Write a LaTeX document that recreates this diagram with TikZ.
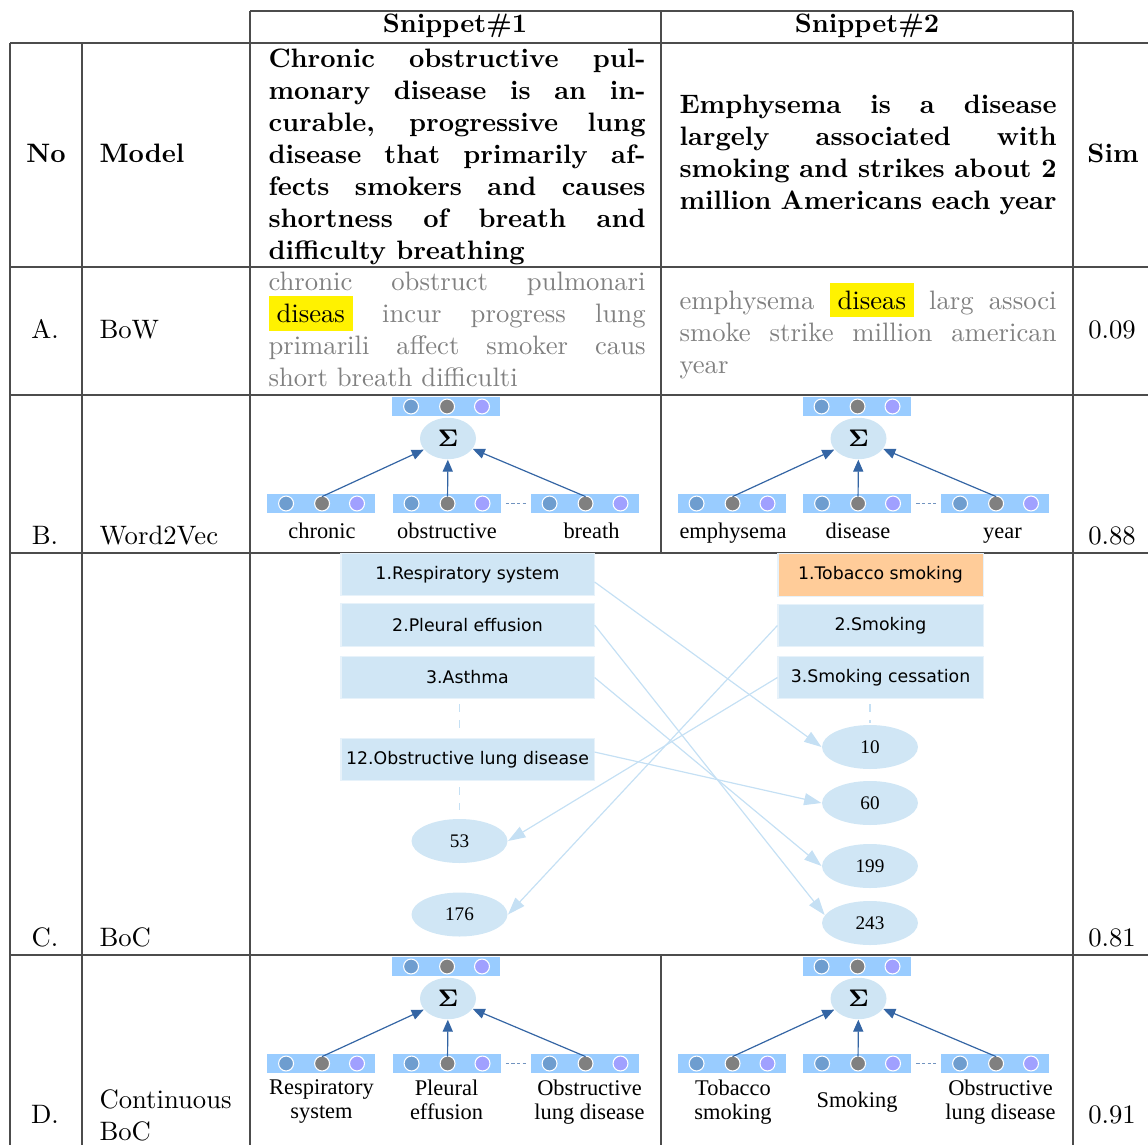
\documentclass[tikz,border=0pt]{standalone}
\usepackage[no-math]{fontspec}
\usetikzlibrary{arrows.meta,calc,shapes.geometric}

\newfontfamily\wordfont{Liberation Serif}
\newfontfamily\conceptfont{DejaVu Sans}

\definecolor{barblue}{RGB}{153,204,255}
\definecolor{dotsteel}{RGB}{110,157,207}
\definecolor{dotgray}{RGB}{128,128,128}
\definecolor{dotlilac}{RGB}{160,160,255}
\definecolor{sumfill}{RGB}{207,229,244}
\definecolor{arrowblue}{RGB}{52,101,164}
\definecolor{conceptfill}{RGB}{208,230,245}
\definecolor{tobacco}{RGB}{255,204,153}
\definecolor{linkblue}{RGB}{197,224,244}

\tikzset{
  rule/.style={draw=black!70, line width=0.5pt},
  para/.style={text width=141.4pt, align=justify, inner sep=0pt},
  vecbar/.style={rectangle, fill=barblue, minimum width=40.5pt, minimum height=7.1pt, inner sep=0pt},
  vdot/.style={draw=white, line width=0.4pt},
  sumnode/.style={ellipse, fill=sumfill, minimum width=21pt, minimum height=15.5pt, inner sep=0pt, font=\fontsize{9}{10}\selectfont},
  feed/.style={draw=arrowblue, line width=0.45pt, -{Triangle[length=4.5pt,width=3.8pt]}},
  ellip/.style={draw=arrowblue!70, line width=0.4pt, dash pattern=on 1.2pt off 0.9pt},
  wordlbl/.style={font=\wordfont\fontsize{8.4}{9}\selectfont, align=center, inner sep=0pt},
  concept/.style={rectangle, fill=conceptfill, draw=conceptfill!50!white, line width=0.4pt, minimum height=16pt, inner sep=0pt, font=\conceptfont\fontsize{6.5}{8}\selectfont},
  idnode/.style={ellipse, fill=conceptfill, minimum width=36pt, minimum height=16.5pt, inner sep=0pt, font=\wordfont\fontsize{7.2}{8}\selectfont},
  link/.style={draw=linkblue, line width=0.45pt, -{Triangle[length=6.5pt,width=4.5pt]}},
  gap/.style={draw=linkblue, line width=0.45pt, dashed},
}

% one summed embedding: three input vectors feeding a sum
\newcommand{\sumtree}[1]{%
  \node[vecbar] (#1top) at (446,406.5) {};
  \node[sumnode] (#1sum) at (448,438.5) {$\mathbf{\Sigma}$};
  \node[vecbar] (#1a) at (321,503.5) {};
  \node[vecbar] (#1b) at (446.5,503.5) {};
  \node[vecbar] (#1c) at (584.5,503.5) {};
  \foreach \vb in {#1top,#1a,#1b,#1c}{%
    \filldraw[vdot, fill=dotsteel] ([xshift=-13.1pt]\vb.center) circle (2.8pt);
    \filldraw[vdot, fill=dotgray] ([xshift=0.4pt]\vb.center) circle (2.8pt);
    \filldraw[vdot, fill=dotlilac] ([xshift=13.5pt]\vb.center) circle (2.8pt);
  }
  \foreach \vb in {#1a,#1b,#1c}
    \draw[feed] ([shift={(0.4pt,2.6pt)}]\vb.center) -- (#1sum);
  \draw[ellip] ([xshift=1.8pt]#1b.east) -- ([xshift=-0.9pt]#1c.west);
}

\begin{document}
\begin{tikzpicture}[x=0.375pt,y=-0.375pt]
\useasboundingbox (0,0) rectangle (1148,1145);

% table rules
\draw[rule] (250,11) -- (1073,11);
\foreach \y in {43,267,395,553,955}
  \draw[rule] (10,\y) -- (1148,\y);
\foreach \x in {10,82}
  \draw[rule] (\x,43) -- (\x,1145);
\foreach \x in {250,1073}
  \draw[rule] (\x,11) -- (\x,1145);
\draw[rule] (661,11) -- (661,553);
\draw[rule] (661,955) -- (661,1145);

% header
\node[anchor=base, font=\bfseries] (hS1) at (455,33) {Snippet\#1};
\node[anchor=base, font=\bfseries] (hS2) at (867,33) {Snippet\#2};
\node[anchor=base, font=\bfseries] (hNo) at (46,162) {No};
\node[anchor=base west, inner sep=0pt, font=\bfseries] (hModel) at (99,162) {Model};
\node[anchor=base, font=\bfseries] (hSim) at (1113,162) {Sim};
\node[para, font=\bfseries, anchor=north west] (pS1) at (268,48.5) {Chronic obstructive pul-\linebreak monary disease is an in-\linebreak curable, progressive lung\linebreak disease that primarily af-\linebreak fects smokers and causes\linebreak shortness of breath and\linebreak difficulty breathing};
\node[para, font=\bfseries, anchor=north west] (pS2) at (679,94.5) {Emphysema is a disease\linebreak largely associated with\linebreak smoking and strikes about 2\linebreak million Americans each year};

% A. BoW
\node[anchor=base] (aNo) at (45,338) {A.};
\node[anchor=base west, inner sep=0pt] (aModel) at (99,338) {BoW};
\node[para, text=black!50, anchor=north west] (aS1) at (268,271.5) {chronic obstruct pulmonari\linebreak \colorbox{yellow}{\color{black}diseas} incur progress lung\linebreak primarili affect smoker caus\linebreak short breath difficulti};
\node[para, text=black!50, anchor=north west] (aS2) at (679,282) {emphysema \colorbox{yellow}{\color{black}diseas} larg associ\linebreak smoke strike million american\linebreak year};
\node[anchor=base] (aSim) at (1112,338) {0.09};

% B. Word2Vec
\node[anchor=base] (bNo) at (45,544) {B.};
\node[anchor=base west, inner sep=0pt] (bModel) at (99,544) {Word2Vec};
\node[anchor=base] (bSim) at (1112,544) {0.88};
\begin{scope}
  \sumtree{bl}
  \node[wordlbl, anchor=base] (blwa) at (322,538) {chronic};
  \node[wordlbl, anchor=base] (blwb) at (447,538) {obstructive};
  \node[wordlbl, anchor=base] (blwc) at (591.5,538) {breath};
\end{scope}
\begin{scope}[shift={(410.5,0)}]
  \sumtree{br}
  \node[wordlbl, anchor=base] (brwa) at (322.5,538) {emphysema};
  \node[wordlbl, anchor=base] (brwb) at (447.5,538) {disease};
  \node[wordlbl, anchor=base] (brwc) at (592,538) {year};
\end{scope}

% C. BoC
\node[anchor=base] (cNo) at (45,946) {C.};
\node[anchor=base west, inner sep=0pt] (cModel) at (99,946) {BoC};
\node[anchor=base] (cSim) at (1112,946) {0.81};

\node[concept, minimum width=94.9pt] (r1) at (467.5,574.5) {1.Respiratory system};
\node[concept, minimum width=94.9pt] (r2) at (467.5,625) {2.Pleural effusion};
\node[concept, minimum width=94.9pt] (r3) at (467.5,677.5) {3.Asthma};
\node[concept, minimum width=94.9pt] (r12) at (467.5,759.5) {12.Obstructive lung disease};
\node[idnode] (n53) at (459.5,841) {53};
\node[idnode] (n176) at (459.5,914.5) {176};

\node[concept, minimum width=76.9pt, fill=tobacco] (s1) at (880.5,575) {1.Tobacco smoking};
\node[concept, minimum width=76.9pt] (s2) at (880.5,625.5) {2.Smoking};
\node[concept, minimum width=76.9pt] (s3) at (880.5,677.5) {3.Smoking cessation};
\node[idnode] (n10) at (870,747) {10};
\node[idnode] (n60) at (870,803) {60};
\node[idnode] (n199) at (870,866) {199};
\node[idnode] (n243) at (870,923) {243};

\draw[gap] ($(r3.south -| n53)+(0,5)$) -- ($(r12.north -| n53)+(0,-9)$);
\draw[gap] ($(r12.south -| n53)+(0,6)$) -- ($(n53.north)+(0,-8)$);
\draw[gap] ($(s3.south -| n10)+(0,5)$) -- ($(n10.north)+(0,-1)$);

\draw[link] ([yshift=-2.8pt]r1.east) -- (n10.west);
\draw[link] (r2.east) -- (n243.170);
\draw[link] (r3.east) -- (n199.west);
\draw[link] ([yshift=2.8pt]r12.east) -- (n60.west);
\draw[link] (s2.west) -- (n176.east);
\draw[link] (s3.west) -- (n53.east);

% D. Continuous BoC
\node[anchor=base] (dNo) at (45,1123) {D.};
\node[anchor=north west, inner sep=0pt, align=left] (dModel) at (99,1089) {Continuous\\BoC};
\node[anchor=base] (dSim) at (1112,1123) {0.91};
\begin{scope}[shift={(0,560)}]
  \sumtree{dl}
  \node[wordlbl, anchor=north] (dlwa) at (321.5,519) {Respiratory\\system};
  \node[wordlbl, anchor=north] (dlwb) at (446.5,519) {Pleural\\effusion};
  \node[wordlbl, anchor=north] (dlwc) at (589.5,519) {Obstructive\\lung disease};
\end{scope}
\begin{scope}[shift={(410.5,560)}]
  \sumtree{dr}
  \node[wordlbl, anchor=north] (drwa) at (322.5,519) {Tobacco\\smoking};
  \node[wordlbl, anchor=base] (drwb) at (446.5,547) {Smoking};
  \node[wordlbl, anchor=north] (drwc) at (590,519) {Obstructive\\lung disease};
\end{scope}

\end{tikzpicture}
\end{document}
